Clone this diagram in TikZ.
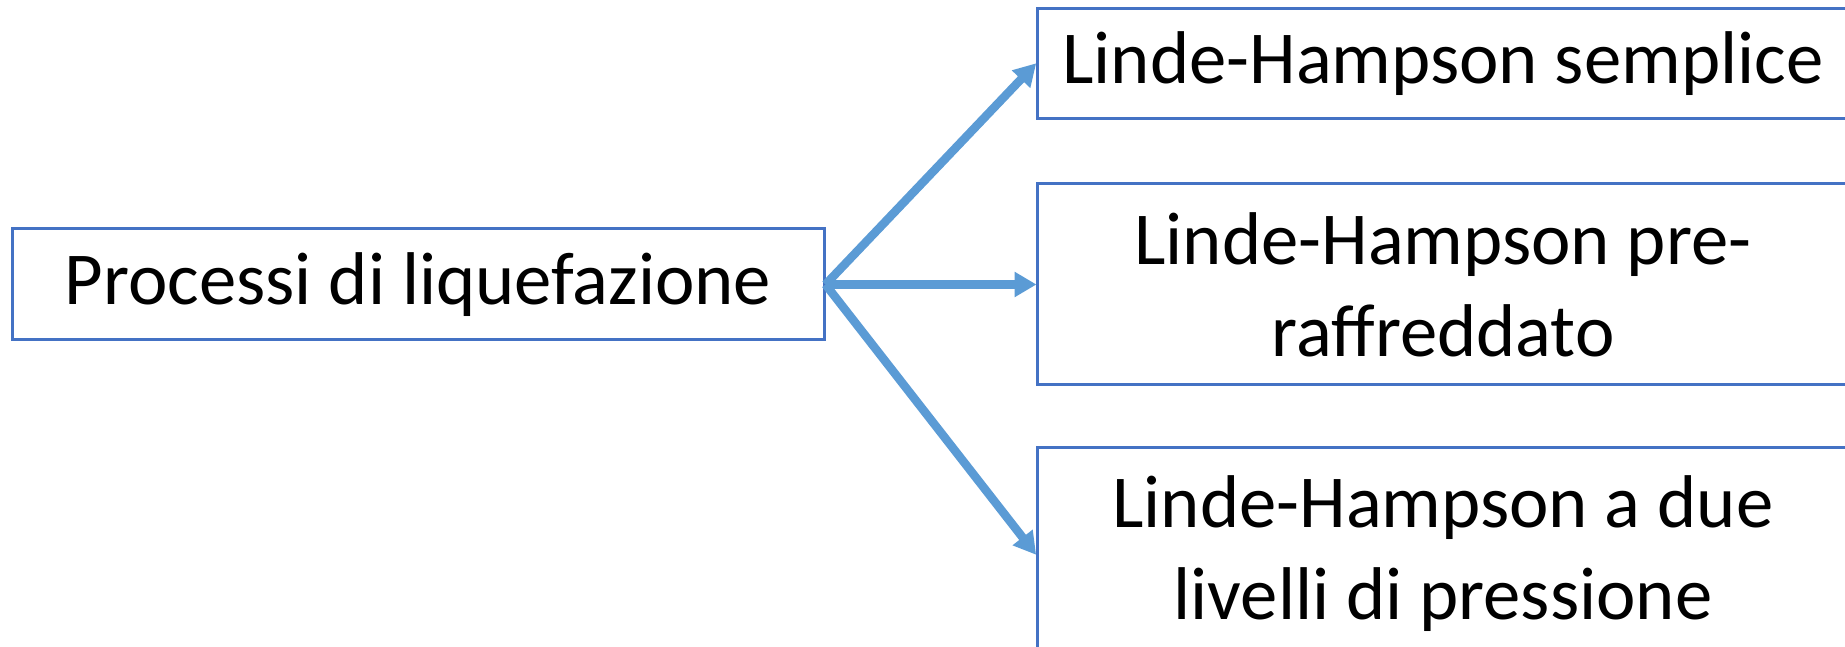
\documentclass[tikz,border=0pt]{standalone}
\usepackage{fontspec}
\setmainfont{Carlito}
\usetikzlibrary{arrows.meta}
\definecolor{boxblue}{HTML}{4472C4}
\definecolor{arrowblue}{HTML}{5B9BD5}
\begin{document}
\begin{tikzpicture}[x=1pt,y=1pt,
  box/.style={draw=boxblue, line width=3pt, fill=white, minimum width=812pt, inner sep=0pt,
    align=center, font=\fontsize{74.7}{92}\selectfont},
  conn/.style={draw=arrowblue, line width=8.5pt, -{Triangle[length=22pt,width=24pt]}, shorten >=-1pt}]
\useasboundingbox (0,0) rectangle (1845,647);
\clip (0,0) rectangle (1845,647);
\fill[white] (0,0) rectangle (1845,647);
\node[box, minimum height=111pt] (src) at (418,362.5) {Processi di liquefazione};
\node[box, minimum height=110pt] (b1) at (1443,583) {Linde-Hampson semplice};
\node[box, minimum height=201pt] (b2) at (1443,362.5) {Linde-Hampson pre-\\raffreddato};
\node[box, minimum height=212pt] (b3) at (1443,93) {Linde-Hampson a due\\livelli di pressione};
\draw[conn] (src.east) -- (b1.west);
\draw[conn] (src.east) -- (b2.west);
\draw[conn] (src.east) -- (b3.west);
\end{tikzpicture}
\end{document}
